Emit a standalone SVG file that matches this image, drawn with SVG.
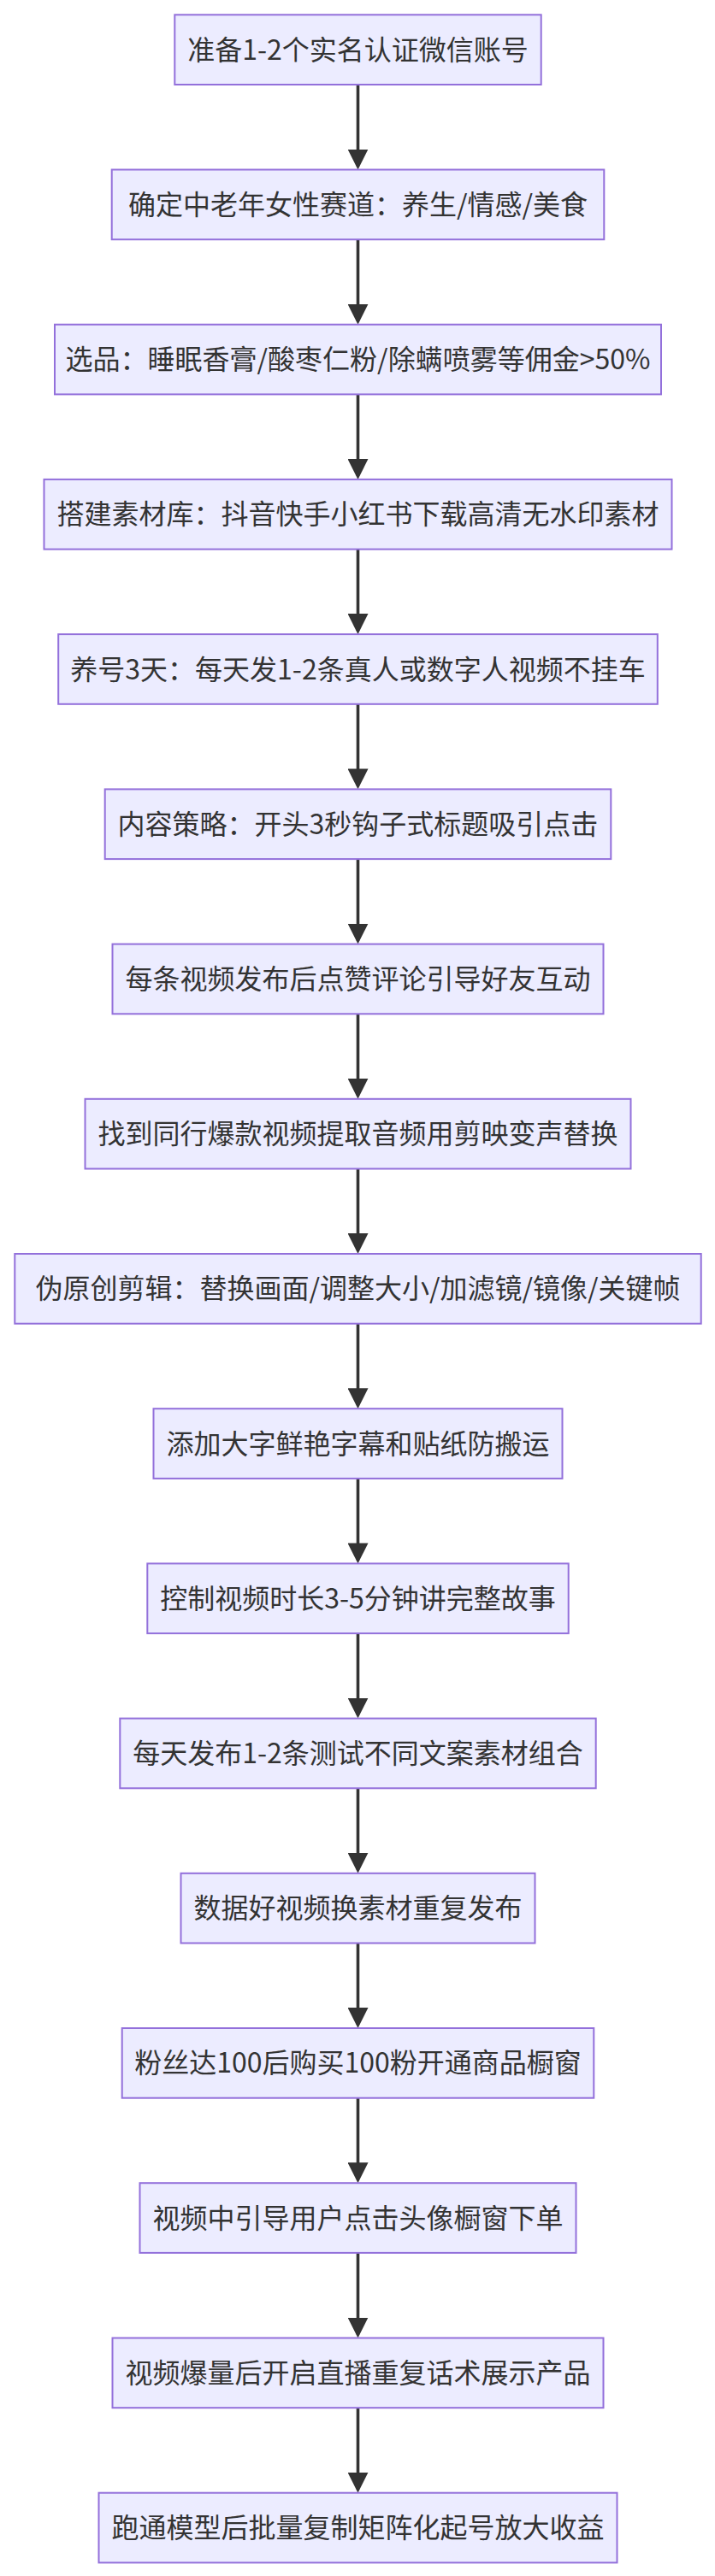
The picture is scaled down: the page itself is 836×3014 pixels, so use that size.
<svg xmlns="http://www.w3.org/2000/svg" width="836" height="3014" viewBox="0 0 836 3014">
<style>
.node rect{fill:#ECECFF;stroke:#9370DB;stroke-width:2;}
.node text{font-family:"Noto Sans CJK SC","Liberation Sans",sans-serif;font-size:32px;fill:#333333;text-anchor:middle;}
.edge{stroke:#333333;stroke-width:3.6;fill:none;marker-end:url(#arrow);}
</style>
<defs>
<marker id="arrow" viewBox="0 0 24 24" refX="20" refY="12" markerWidth="24" markerHeight="24" markerUnits="userSpaceOnUse" orient="auto">
<path d="M0,0 L24,12 L0,24 z" fill="#333333"/>
</marker>
</defs>
<g id="connectors">
<line class="edge" x1="418.5" y1="99" x2="418.5" y2="194.5"/>
<line class="edge" x1="418.5" y1="280.2" x2="418.5" y2="375.7"/>
<line class="edge" x1="418.5" y1="461.4" x2="418.5" y2="556.9"/>
<line class="edge" x1="418.5" y1="642.6" x2="418.5" y2="738.1"/>
<line class="edge" x1="418.5" y1="823.8" x2="418.5" y2="919.4"/>
<line class="edge" x1="418.5" y1="1005.1" x2="418.5" y2="1100.6"/>
<line class="edge" x1="418.5" y1="1186.3" x2="418.5" y2="1281.8"/>
<line class="edge" x1="418.5" y1="1367.5" x2="418.5" y2="1463"/>
<line class="edge" x1="418.5" y1="1548.7" x2="418.5" y2="1644.2"/>
<line class="edge" x1="418.5" y1="1729.9" x2="418.5" y2="1825.4"/>
<line class="edge" x1="418.5" y1="1911.1" x2="418.5" y2="2006.6"/>
<line class="edge" x1="418.5" y1="2092.3" x2="418.5" y2="2187.8"/>
<line class="edge" x1="418.5" y1="2273.5" x2="418.5" y2="2369"/>
<line class="edge" x1="418.5" y1="2454.7" x2="418.5" y2="2550.2"/>
<line class="edge" x1="418.5" y1="2635.9" x2="418.5" y2="2731.5"/>
<line class="edge" x1="418.5" y1="2817.2" x2="418.5" y2="2912.7"/>
</g>
<g id="n1" class="node"><rect x="204.3" y="17.3" width="428.4" height="81.7"/><text x="418.5" y="69.6">准备1-2个实名认证微信账号</text></g>
<g id="n2" class="node"><rect x="130.7" y="198.5" width="575.6" height="81.7"/><text x="418.5" y="250.9">确定中老年女性赛道：养生/情感/美食</text></g>
<g id="n3" class="node"><rect x="64" y="379.7" width="709" height="81.7"/><text x="418.5" y="432.1">选品：睡眠香膏/酸枣仁粉/除螨喷雾等佣金&gt;50%</text></g>
<g id="n4" class="node"><rect x="51.5" y="560.9" width="734" height="81.7"/><text x="418.5" y="613.3">搭建素材库：抖音快手小红书下载高清无水印素材</text></g>
<g id="n5" class="node"><rect x="68.2" y="742.1" width="700.6" height="81.7"/><text x="418.5" y="794.5">养号3天：每天发1-2条真人或数字人视频不挂车</text></g>
<g id="n6" class="node"><rect x="122.7" y="923.4" width="591.6" height="81.7"/><text x="418.5" y="975.7">内容策略：开头3秒钩子式标题吸引点击</text></g>
<g id="n7" class="node"><rect x="131.5" y="1104.6" width="574" height="81.7"/><text x="418.5" y="1156.9">每条视频发布后点赞评论引导好友互动</text></g>
<g id="n8" class="node"><rect x="99.5" y="1285.8" width="638" height="81.7"/><text x="418.5" y="1338.1">找到同行爆款视频提取音频用剪映变声替换</text></g>
<g id="n9" class="node"><rect x="17.3" y="1467" width="802.4" height="81.7"/><text x="418.5" y="1519.3">伪原创剪辑：替换画面/调整大小/加滤镜/镜像/关键帧</text></g>
<g id="n10" class="node"><rect x="179.5" y="1648.2" width="478" height="81.7"/><text x="418.5" y="1700.5">添加大字鲜艳字幕和贴纸防搬运</text></g>
<g id="n11" class="node"><rect x="172.3" y="1829.4" width="492.4" height="81.7"/><text x="418.5" y="1881.8">控制视频时长3-5分钟讲完整故事</text></g>
<g id="n12" class="node"><rect x="140.3" y="2010.6" width="556.4" height="81.7"/><text x="418.5" y="2063">每天发布1-2条测试不同文案素材组合</text></g>
<g id="n13" class="node"><rect x="211.5" y="2191.8" width="414" height="81.7"/><text x="418.5" y="2244.2">数据好视频换素材重复发布</text></g>
<g id="n14" class="node"><rect x="142.7" y="2373" width="551.6" height="81.7"/><text x="418.5" y="2425.4">粉丝达100后购买100粉开通商品橱窗</text></g>
<g id="n15" class="node"><rect x="163.5" y="2554.2" width="510" height="81.7"/><text x="418.5" y="2606.6">视频中引导用户点击头像橱窗下单</text></g>
<g id="n16" class="node"><rect x="131.5" y="2735.5" width="574" height="81.7"/><text x="418.5" y="2787.8">视频爆量后开启直播重复话术展示产品</text></g>
<g id="n17" class="node"><rect x="115.5" y="2916.7" width="606" height="81.7"/><text x="418.5" y="2969">跑通模型后批量复制矩阵化起号放大收益</text></g>
</svg>
